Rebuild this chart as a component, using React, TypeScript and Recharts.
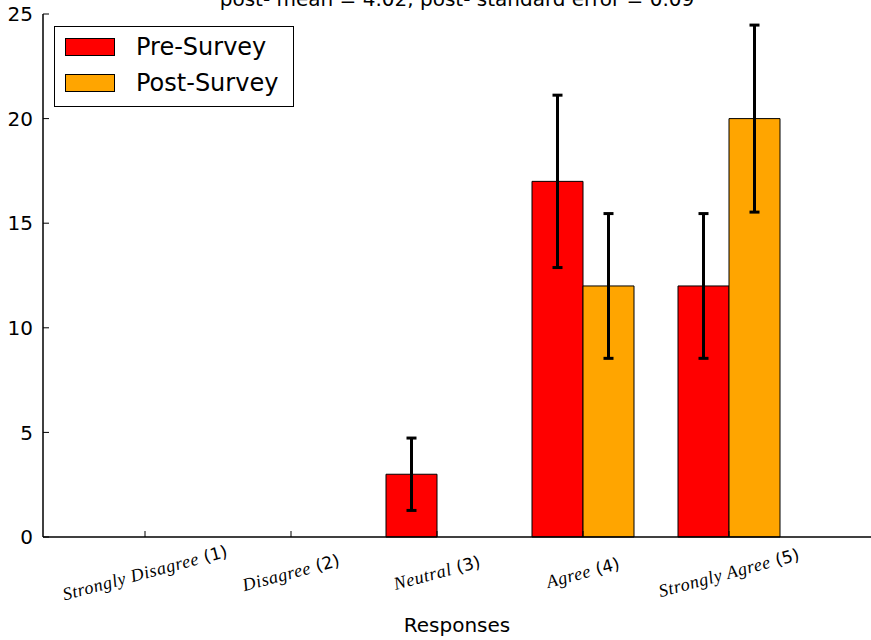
import React from 'react';
import { BarChart, Bar, XAxis, YAxis, ErrorBar, Legend, Customized } from 'recharts';

const categories = ['Strongly Disagree', 'Disagree', 'Neutral', 'Agree', 'Strongly Agree'];
const codes = ['(1)', '(2)', '(3)', '(4)', '(5)'];
const preSurvey = [0, 0, 3, 17, 12];
const postSurvey = [0, 0, 0, 12, 20];
const preError = [0, 0, 1.73, 4.12, 3.46];
const postError = [0, 0, 0, 3.46, 4.47];
const yTicks = [0, 5, 10, 15, 20, 25];
const seriesNames = ['Pre-Survey', 'Post-Survey'];
const seriesColors = ['#ff0000', '#ffa500'];
const titleText = 'post- mean = 4.02, post- standard error = 0.09';
const xLabel = 'Responses';

const data = categories.map((c, i) => ({
  name: c,
  pre: preSurvey[i],
  post: postSurvey[i],
  preErr: preError[i],
  postErr: postError[i],
}));

const XTick = (props: any) => {
  const { x, y, payload } = props;
  const idx = categories.indexOf(payload.value);
  return (
    <g transform={`translate(${x},${y + 36}) rotate(-15)`}>
      <text textAnchor="middle" dy="0.35em" fill="#000">
        <tspan fontFamily="Liberation Serif" fontStyle="italic" fontSize={18} letterSpacing={0.6}>{payload.value}</tspan>
        <tspan fontFamily="DejaVu Sans" fontSize={17}>{' ' + codes[idx]}</tspan>
      </text>
    </g>
  );
};

const LegendBox = () => (
  <div
    style={{
      position: 'relative',
      width: 240,
      height: 81,
      border: '1px solid #000',
      background: '#fff',
      boxSizing: 'border-box',
      fontFamily: 'DejaVu Sans',
      fontSize: 24,
      color: '#000',
    }}
  >
    {seriesNames.map((n, i) => (
      <div key={n}>
        <div
          style={{
            position: 'absolute',
            left: 10,
            top: 11 + i * 36,
            width: 50,
            height: 18,
            background: seriesColors[i],
            border: '1px solid #000',
            boxSizing: 'border-box',
          }}
        />
        <div style={{ position: 'absolute', left: 81, top: 4 + i * 36, lineHeight: '32px', whiteSpace: 'nowrap' }}>{n}</div>
      </div>
    ))}
  </div>
);

export default function App() {
  return (
    <div style={{ position: 'absolute', left: 0, top: 0, width: 871, height: 640, background: '#fff' }}>
      <BarChart
        width={871}
        height={640}
        data={data}
        margin={{ top: 14, right: 0, bottom: 0, left: 0 }}
        barGap={0}
        barSize={51}
      >
        <XAxis
          dataKey="name"
          xAxisId="main"
          orientation="bottom"
          height={103}
          padding={{ left: 29, right: 69 }}
          tickSize={-6}
          tickMargin={6}
          tick={<XTick />}
          axisLine={{ stroke: '#000', strokeWidth: 1.5 }}
          tickLine={{ stroke: '#000' }}
          interval={0}
          label={{ value: xLabel, position: 'insideBottom', offset: 8, fontFamily: 'DejaVu Sans', fontSize: 20, fill: '#000' }}
        />
        <XAxis
          dataKey="name"
          xAxisId="top"
          orientation="top"
          height={0}
          padding={{ left: 29, right: 69 }}
          tickSize={-6}
          tick={false}
          interval={0}
          axisLine={{ stroke: '#000', strokeWidth: 1.5 }}
          tickLine={{ stroke: '#000' }}
        />
        <YAxis
          yAxisId="main"
          width={43}
          domain={[0, 25]}
          ticks={yTicks}
          tickSize={-6}
          tickMargin={16}
          axisLine={{ stroke: '#000', strokeWidth: 1.5 }}
          tickLine={{ stroke: '#000' }}
          tick={{ fontFamily: 'DejaVu Sans', fontSize: 20, fill: '#000' }}
        />
        <YAxis
          yAxisId="right"
          orientation="right"
          width={0}
          domain={[0, 25]}
          ticks={yTicks}
          tickSize={-6}
          tick={false}
          axisLine={false}
          tickLine={{ stroke: '#000' }}
        />
        <Legend
          layout="vertical"
          align="center"
          verticalAlign="middle"
          content={<LegendBox />}
          wrapperStyle={{ left: 54, top: 26, width: 240, height: 81 }}
        />
        <Bar dataKey="pre" name={seriesNames[0]} xAxisId="main" yAxisId="main" fill={seriesColors[0]} stroke="#000" strokeWidth={1} isAnimationActive={false}>
          <ErrorBar dataKey="preErr" width={5} strokeWidth={3} stroke="#000" direction="y" />
        </Bar>
        <Bar dataKey="post" name={seriesNames[1]} xAxisId="main" yAxisId="main" fill={seriesColors[1]} stroke="#000" strokeWidth={1} isAnimationActive={false}>
          <ErrorBar dataKey="postErr" width={5} strokeWidth={3} stroke="#000" direction="y" />
        </Bar>
        <Customized
          component={() => (
            <text x={457} y={6} textAnchor="middle" fontFamily="DejaVu Sans" fontSize={20} fill="#000">
              {titleText}
            </text>
          )}
        />
      </BarChart>
    </div>
  );
}
